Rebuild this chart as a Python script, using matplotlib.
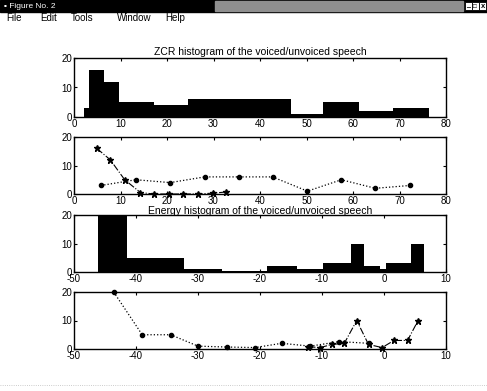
import matplotlib
matplotlib.use("Agg")
import matplotlib.pyplot as plt
from matplotlib.patches import Rectangle

plt.rcParams['font.family'] = ['Liberation Sans', 'DejaVu Sans']
plt.rcParams['font.size'] = 7
plt.rcParams['axes.unicode_minus'] = False

# ZCR histogram: combined bars (bin edges / counts)
zcr_edges = [2.2, 3.3, 6.4, 9.6, 17.1, 24.5, 46.6, 53.6, 61.3, 68.6, 76.3]
zcr_counts = [3, 16, 12, 5, 4, 6, 1, 5, 2, 3]

# ZCR histogram per class (bin centres / counts)
zcr_voiced_x = [4.9, 7.8, 10.9, 14.3, 17.2, 20.4, 23.4, 26.6, 29.9, 32.7]
zcr_voiced_n = [16, 12, 5, 0.5, 0, 0, 0, 0, 0.3, 0.7]
zcr_unvoiced_x = [5.8, 13.3, 20.7, 28.1, 35.5, 42.7, 50.2, 57.5, 64.8, 72.3]
zcr_unvoiced_n = [3, 5, 4, 6, 6, 6, 1, 5, 2, 3]

# energy histogram: combined bars
en_edges = [-46.1, -41.4, -32.3, -26.2, -18.8, -14.1, -9.8, -5.4, -3.3, -0.6, 0.3, 4.3, 6.5]
en_counts = [20, 5, 1, 0.5, 2, 1, 3, 10, 2, 1, 3, 10]

# energy histogram per class
en_voiced_x = [-12.2, -10.3, -8.4, -6.4, -4.4, -2.5, -0.3, 1.6, 3.8, 5.5]
en_voiced_n = [0.8, 0.5, 1.6, 2, 10, 1.6, 0.5, 3, 3, 10]
en_unvoiced_x = [-43.6, -39.0, -34.4, -30.0, -25.4, -20.8, -16.5, -11.9, -7.2, -2.5]
en_unvoiced_n = [20, 5, 5, 1, 0.7, 0.5, 2, 1, 2.6, 2]

W, H = 487, 391
fig = plt.figure(figsize=(W / 100, H / 100), dpi=100)
fig.patch.set_facecolor('white')


def px_rect(x0, y0, w, h, **kw):
    # rectangle given in pixels from the top-left corner
    r = Rectangle((x0 / W, 1 - (y0 + h) / H), w / W, h / H,
                  transform=fig.transFigure, figure=fig, **kw)
    fig.patches.append(r)


# window title bar and menu
px_rect(0, 0, W, 12, color='black', zorder=0)
px_rect(215, 1, 248, 10, color='#8f8f8f', zorder=1)
for xb in (465, 472, 479):
    px_rect(xb, 2, 7, 8, facecolor='white', edgecolor='black', lw=0.6, zorder=2)
fig.text(4 / W, 1 - 6 / H, '\u25aa Figure No. 2', color='white', fontsize=6, va='center')
fig.text(466 / W, 1 - 6 / H, '_', fontsize=5, va='center', weight='bold')
fig.text(473 / W, 1 - 6 / H, '\u25a1', fontsize=4.5, va='center', weight='bold')
fig.text(480.5 / W, 1 - 6 / H, 'x', fontsize=5.5, va='center', weight='bold')
for label, xp in [('File', 6), ('Edit', 40), ('Tools', 71), ('Window', 117), ('Help', 165)]:
    fig.text(xp / W, 1 - 18 / H, label, fontsize=7, va='center')
fig.add_artist(plt.Line2D([0, 1], [1 - 385 / H, 1 - 385 / H], transform=fig.transFigure,
                          color='#bbbbbb', lw=0.6, ls=':'))

left, right = 74, 446
panels = [(58, 117), (137, 194), (215, 272), (292, 349)]
axes = [fig.add_axes([left / W, 1 - b / H, (right - left) / W, (b - t) / H]) for t, b in panels]
ax1, ax2, ax3, ax4 = axes


def setup(ax, xlim, xticks):
    ax.set_xlim(xlim)
    ax.set_ylim(0, 20)
    ax.set_xticks(xticks)
    ax.set_yticks([0, 10, 20])
    ax.tick_params(direction='in', top=True, right=True, length=2.5, width=0.8,
                   pad=1.5, labelsize=7)
    for s in ax.spines.values():
        s.set_linewidth(1.0)


setup(ax1, (0, 80), range(0, 81, 10))
setup(ax2, (0, 80), range(0, 81, 10))
setup(ax3, (-50, 10), range(-50, 11, 10))
setup(ax4, (-50, 10), range(-50, 11, 10))

ax1.stairs(zcr_counts, zcr_edges, fill=True, color='black')
ax1.set_title('ZCR histogram of the voiced/unvoiced speech', fontsize=7.5, pad=2)

ax2.plot(zcr_voiced_x, zcr_voiced_n, color='black', ls='-.', lw=0.8, marker='*', ms=5, clip_on=False)
ax2.plot(zcr_unvoiced_x, zcr_unvoiced_n, color='black', ls=':', lw=0.9, marker='.', ms=6, clip_on=False)

ax3.stairs(en_counts, en_edges, fill=True, color='black')
ax3.set_title('Energy histogram of the voiced/unvoiced speech', fontsize=7.5, pad=1)

ax4.plot(en_unvoiced_x, en_unvoiced_n, color='black', ls=':', lw=0.9, marker='.', ms=6, clip_on=False)
ax4.plot(en_voiced_x, en_voiced_n, color='black', ls='-.', lw=0.8, marker='*', ms=5, clip_on=False)

fig.savefig('out.png', dpi=100, facecolor='white')
